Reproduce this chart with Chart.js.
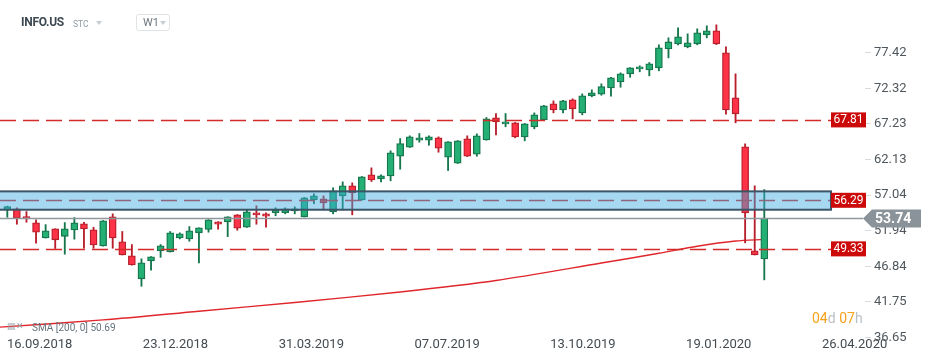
<!DOCTYPE html>
<html>
<head>
<meta charset="utf-8">
<script src="https://cdn.jsdelivr.net/npm/chart.js@4.4.1/dist/chart.umd.min.js"></script>
<style>
  body { margin: 0; background: #fff; font-family: Roboto, "Open Sans", sans-serif; }
  #wrap { position: relative; width: 934px; height: 362px; overflow: hidden; }
  .abs { position: absolute; white-space: nowrap; }
  .tri { position: absolute; width: 0; height: 0; border-left: 3.5px solid transparent; border-right: 3.5px solid transparent; border-top: 4px solid #c6ccd1; }
</style>
</head>
<body>
<div id="wrap">
  <canvas id="priceChart" width="934" height="362"></canvas>

  <!-- header -->
  <div class="abs" style="left:21px;top:15px;font-size:12px;font-weight:bold;color:#3d4850;letter-spacing:-0.3px;">INFO.US</div>
  <div class="abs" style="left:73px;top:19px;font-size:8.5px;color:#8d9ba5;">STC</div>
  <div class="tri" style="left:96px;top:21px;"></div>
  <div class="abs" style="left:136px;top:14px;width:34px;height:17px;border:1px solid #dfe3e6;border-radius:3px;box-sizing:border-box;">
    <span class="abs" style="left:6px;top:1px;font-size:11px;color:#6b767e;">W1</span>
    <div class="tri" style="left:23px;top:6px;"></div>
  </div>

  <!-- indicator legend -->
  <div class="abs" style="left:7px;top:321px;font-size:9px;color:#9aa3a9;">&#9636;&#10005;</div>
  <div class="abs" id="smaLegend" style="left:32px;top:322px;font-size:10px;color:#66737d;"></div>

  <!-- candle timer -->
  <div class="abs" style="left:812px;top:310px;font-size:14px;color:#f7a21b;">04<span style="color:#b9c0c5">d</span> 07<span style="color:#b9c0c5">h</span></div>
</div>

<script>
// weekly candles, first one = 16.09.2018
var opens = [54.92, 55.07, 53.96, 53.06, 50.90, 52.20, 51.13, 52.05, 52.91, 52.05,
             49.76, 53.92, 50.34, 48.33, 45.04, 47.62, 49.05, 48.90, 50.90, 50.76,
             51.63, 52.10, 53.20, 53.20, 54.21, 52.43, 54.50, 54.35, 54.50, 54.50,
             54.78, 53.92, 56.36, 56.50, 54.64, 56.93, 58.36, 56.36, 59.94, 59.37,
             59.79, 62.60, 63.89, 64.90, 64.90, 65.24, 62.46, 61.60, 65.10, 62.89,
             64.95, 68.11, 67.24, 67.39, 65.38, 66.82, 67.82, 70.11, 69.25, 70.69,
             68.82, 71.26, 71.49, 72.40, 73.26, 74.41, 75.13, 74.98, 75.27, 77.99,
             78.71, 78.28, 78.71, 80.00, 80.57, 77.42, 70.97, 63.95, 49.05, 47.90];
var highs = [55.45, 55.21, 54.68, 53.49, 52.81, 52.22, 53.10, 53.82, 53.15, 52.43,
             53.40, 54.35, 51.82, 49.95, 47.90, 48.22, 49.95, 51.82, 51.63, 52.53,
             52.36, 53.52, 53.22, 53.94, 54.25, 54.92, 55.50, 54.50, 55.21, 55.21,
             55.35, 56.70, 57.22, 56.93, 58.08, 58.93, 58.79, 59.70, 60.94, 59.94,
             63.38, 65.14, 65.53, 65.86, 65.53, 65.38, 64.70, 64.85, 65.53, 65.81,
             68.15, 68.72, 68.72, 67.45, 67.30, 68.82, 69.90, 70.54, 70.60, 70.83,
             71.54, 72.12, 72.98, 73.90, 74.55, 75.30, 75.56, 76.03, 78.57, 79.57,
             80.99, 80.14, 80.86, 81.29, 81.43, 78.28, 74.41, 64.38, 58.36, 57.83];
var lows = [53.86, 52.86, 53.15, 50.14, 50.88, 49.38, 48.57, 50.72, 49.42, 49.42,
            49.72, 49.42, 48.45, 47.00, 43.97, 46.27, 48.12, 48.88, 50.76, 50.42,
            47.33, 51.72, 52.15, 51.09, 52.00, 52.40, 52.86, 52.43, 54.07, 54.35,
            54.35, 53.90, 55.79, 54.92, 54.35, 54.92, 54.21, 56.30, 58.98, 58.93,
            59.08, 60.74, 63.85, 64.61, 64.18, 63.18, 60.55, 61.55, 62.55, 62.60,
            64.90, 65.67, 66.82, 65.24, 64.81, 66.53, 67.80, 68.82, 68.82, 67.96,
            68.54, 71.12, 71.34, 71.20, 72.49, 73.92, 74.70, 74.12, 74.84, 76.70,
            78.57, 78.14, 78.57, 79.57, 78.60, 68.62, 67.39, 50.20, 48.45, 44.89];
var closes = [55.40, 53.72, 53.68, 51.72, 51.91, 50.63, 52.20, 53.06, 52.20, 49.90,
              53.35, 50.90, 48.48, 47.04, 47.33, 48.19, 49.76, 51.63, 51.48, 51.91,
              52.34, 53.49, 52.86, 53.92, 52.29, 54.64, 54.21, 54.00, 54.87, 55.07,
              55.07, 56.64, 56.93, 55.93, 57.65, 58.36, 57.36, 59.65, 59.22, 59.79,
              63.09, 64.42, 65.38, 65.24, 65.38, 63.75, 64.67, 64.81, 62.60, 65.53,
              67.96, 67.53, 67.53, 65.38, 67.24, 68.54, 69.83, 69.25, 70.54, 69.40,
              71.26, 71.69, 72.59, 73.84, 74.41, 75.27, 75.41, 75.84, 78.14, 78.98,
              79.71, 78.85, 80.29, 80.57, 78.71, 69.25, 68.68, 54.49, 48.48, 53.74];

// SMA(200) read at a few weeks
var smaWeeks = [-1, 10, 20, 30, 41, 51, 62, 68, 72, 76, 79];
var smaValues = [38.10, 39.15, 40.40, 41.65, 43.15, 44.80, 47.30, 48.70, 49.70, 50.45, 50.69];

var dateLabels = ['16.09.2018', '23.12.2018', '31.03.2019', '07.07.2019', '13.10.2019', '19.01.2020', '26.04.2020'];
var priceTicks = [36.65, 41.75, 46.84, 51.94, 57.04, 62.13, 67.23, 72.32, 77.42];

var levels = [67.81, 56.29, 49.33];
var zoneTop = 57.57, zoneBottom = 54.94;
var lastPrice = closes[closes.length - 1];

document.getElementById('smaLegend').textContent = 'SMA [200, 0] ' + smaValues[smaValues.length - 1].toFixed(2);

var upFill = '#24b074', upLine = '#16764c';
var downFill = '#ff3347', downLine = '#b81f2b';

var bodies = [], wicks = [], bodyFill = [], bodyLine = [];
for (var i = 0; i < opens.length; i++) {
    bodies.push({x: i, y: [opens[i], closes[i]]});
    wicks.push({x: i, y: [lows[i], highs[i]]});
    var up = closes[i] >= opens[i];
    bodyFill.push(up ? upFill : downFill);
    bodyLine.push(up ? upLine : downLine);
}
var sma = smaWeeks.map(function (w, k) { return {x: w, y: smaValues[k]}; });

// horizontal levels, zone and price tag
var overlay = {
    id: 'overlay',
    afterDraw: function (chart) {
        var ctx = chart.ctx, ya = chart.scales.y, a = chart.chartArea;
        var lineEnd = a.right - 34;
        ctx.save();
        ctx.lineWidth = 1.6;
        ctx.strokeStyle = '#d42a2a';
        ctx.setLineDash([16, 7]);
        levels.forEach(function (v) {
            var y = Math.round(ya.getPixelForValue(v)) + 0.5;
            ctx.beginPath(); ctx.moveTo(a.left, y); ctx.lineTo(lineEnd, y); ctx.stroke();
        });
        ctx.setLineDash([]);

        // zone
        var zt = ya.getPixelForValue(zoneTop), zb = ya.getPixelForValue(zoneBottom);
        ctx.fillStyle = 'rgba(61,172,224,0.46)';
        ctx.fillRect(a.left - 2, zt, lineEnd - a.left + 2, zb - zt);
        ctx.lineWidth = 2;
        ctx.strokeStyle = '#3b5566';
        ctx.strokeRect(a.left - 2, zt, lineEnd - a.left + 2, zb - zt);

        // last price line
        var yp = Math.round(ya.getPixelForValue(lastPrice)) + 0.5;
        ctx.lineWidth = 1.5;
        ctx.strokeStyle = '#8e979c';
        ctx.beginPath(); ctx.moveTo(a.left, yp); ctx.lineTo(a.right - 2, yp); ctx.stroke();

        // level labels
        ctx.font = '12px Roboto';
        ctx.textAlign = 'center';
        ctx.textBaseline = 'middle';
        levels.forEach(function (v) {
            var y = ya.getPixelForValue(v);
            ctx.fillStyle = '#cc0a0a';
            ctx.fillRect(lineEnd, y - 7.5, 35, 15);
            ctx.fillStyle = '#fff';
            ctx.fillText(v.toFixed(2), lineEnd + 17.5, y + 0.5);
        });

        // price tag
        var tx = a.right - 2;
        ctx.fillStyle = '#8a9399';
        ctx.beginPath();
        ctx.moveTo(tx, yp);
        ctx.lineTo(tx + 9, yp - 9);
        ctx.lineTo(tx + 58, yp - 9);
        ctx.lineTo(tx + 58, yp + 9);
        ctx.lineTo(tx + 9, yp + 9);
        ctx.closePath();
        ctx.fill();
        ctx.fillStyle = '#fff';
        ctx.font = 'bold 14px Roboto';
        ctx.textAlign = 'left';
        ctx.fillText(lastPrice.toFixed(2), tx + 12, yp + 0.5);
        ctx.restore();
    }
};

var ctx = document.getElementById('priceChart');
var priceChart = new Chart(ctx, {
    type: 'bar',
    data: {
        datasets: [{
            label: 'body',
            data: bodies,
            backgroundColor: bodyFill,
            borderColor: bodyLine,
            borderWidth: 1.3,
            borderSkipped: false,
            barThickness: 7,
            minBarLength: 2,
            grouped: false,
            order: 1
        }, {
            label: 'wick',
            data: wicks,
            backgroundColor: bodyLine,
            borderWidth: 0,
            barThickness: 1.2,
            grouped: false,
            order: 2
        }, {
            type: 'line',
            label: 'SMA',
            data: sma,
            borderColor: '#e0262b',
            borderWidth: 1.4,
            pointRadius: 0,
            tension: 0.3,
            fill: false,
            order: 3
        }]
    },
    options: {
        responsive: false,
        animation: false,
        events: [],
        layout: { padding: 0 },
        plugins: { legend: { display: false }, tooltip: { enabled: false } },
        scales: {
            x: {
                type: 'linear',
                display: false,
                offset: false,
                min: -0.762,
                max: 89.51
            },
            x2: {
                type: 'linear',
                position: 'bottom',
                offset: false,
                min: -0.0515,
                max: 6.317,
                grid: { display: false, drawTicks: false },
                border: { display: false },
                afterBuildTicks: function (axis) {
                    axis.ticks = dateLabels.map(function (d, k) { return {value: k}; });
                },
                afterFit: function (axis) {
                    axis.height = 24;
                    axis.paddingLeft = 0;
                    axis.paddingRight = 0;
                },
                ticks: {
                    autoSkip: false,
                    maxRotation: 0,
                    align: 'start',
                    padding: -1,
                    color: '#444b50',
                    font: { family: 'Roboto', size: 13 },
                    callback: function (v) { return dateLabels[v]; }
                }
            },
            y: {
                type: 'linear',
                position: 'right',
                min: 36.56,
                max: 84.99,
                grid: { drawOnChartArea: false, drawTicks: true, tickLength: 6, tickColor: '#d8dcdf' },
                border: { display: false },
                afterBuildTicks: function (axis) {
                    axis.ticks = priceTicks.map(function (v) { return {value: v}; });
                },
                afterFit: function (axis) {
                    axis.width = 69;
                    axis.paddingTop = 0;
                    axis.paddingBottom = 0;
                },
                ticks: {
                    padding: 3,
                    color: '#50575c',
                    font: { family: 'Roboto', size: 13 },
                    callback: function (v) { return v.toFixed(2); }
                }
            }
        }
    },
    plugins: [overlay]
});
</script>
</body>
</html>
